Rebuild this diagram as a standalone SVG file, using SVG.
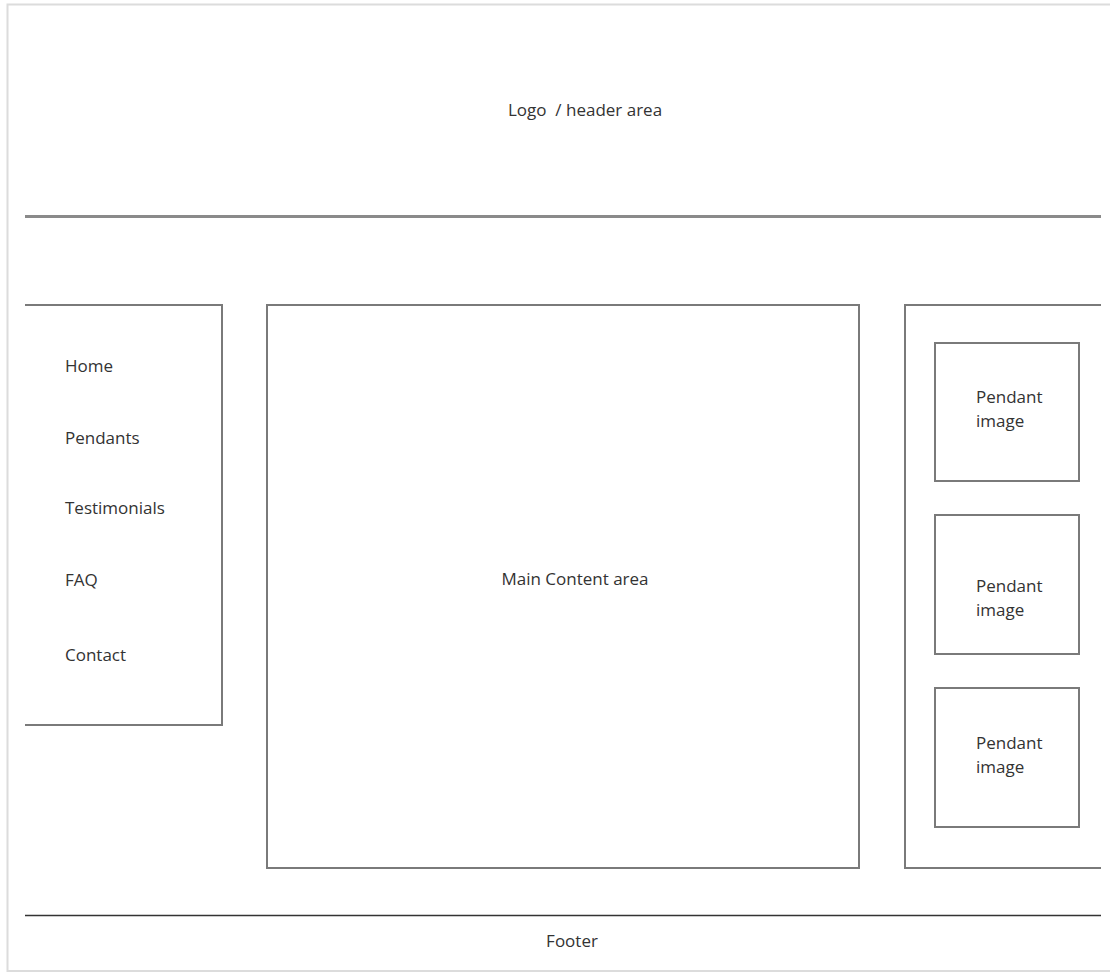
<svg xmlns="http://www.w3.org/2000/svg" width="1110" height="974" viewBox="0 0 1110 974">
<style>
.t{font-family:"Open Sans","Liberation Sans",sans-serif;font-size:17px;fill:#333}
.b{fill:none;stroke:#7a7a7a;stroke-width:2}
</style>
<rect x="0" y="0" width="1110" height="974" fill="#fff"/>
<g id="frame">
<path d="M1110 4.5H7.5V971H1110" fill="none" stroke="#dcdcdc" stroke-width="2"/>
</g>
<g id="header">
<line x1="25" y1="216.5" x2="1101" y2="216.5" stroke="#8a8a8a" stroke-width="3"/>
<text class="t" x="585" y="116" text-anchor="middle" xml:space="preserve">Logo  / header area</text>
</g>
<g id="nav">
<path class="b" d="M25 305H222V725H25"/>
<text class="t" x="65" y="372">Home</text>
<text class="t" x="65" y="444">Pendants</text>
<text class="t" x="65" y="514">Testimonials</text>
<text class="t" x="65" y="586">FAQ</text>
<text class="t" x="65" y="661">Contact</text>
</g>
<g id="main">
<rect class="b" x="267" y="305" width="592" height="563"/>
<text class="t" x="575" y="585" text-anchor="middle">Main Content area</text>
</g>
<g id="sidebar">
<path class="b" d="M1101 305H905V868H1101"/>
</g>
<g id="pendant1">
<rect class="b" x="935" y="343" width="144" height="138"/>
<text class="t" x="976" y="403">Pendant</text>
<text class="t" x="976" y="427">image</text>
</g>
<g id="pendant2">
<rect class="b" x="935" y="515" width="144" height="139"/>
<text class="t" x="976" y="592">Pendant</text>
<text class="t" x="976" y="616">image</text>
</g>
<g id="pendant3">
<rect class="b" x="935" y="688" width="144" height="139"/>
<text class="t" x="976" y="749">Pendant</text>
<text class="t" x="976" y="773">image</text>
</g>
<g id="footer">
<line x1="25" y1="915.5" x2="1101" y2="915.5" stroke="#333" stroke-width="1.5"/>
<text class="t" x="572" y="947" text-anchor="middle">Footer</text>
</g>
<g id="connectors"></g>
</svg>
